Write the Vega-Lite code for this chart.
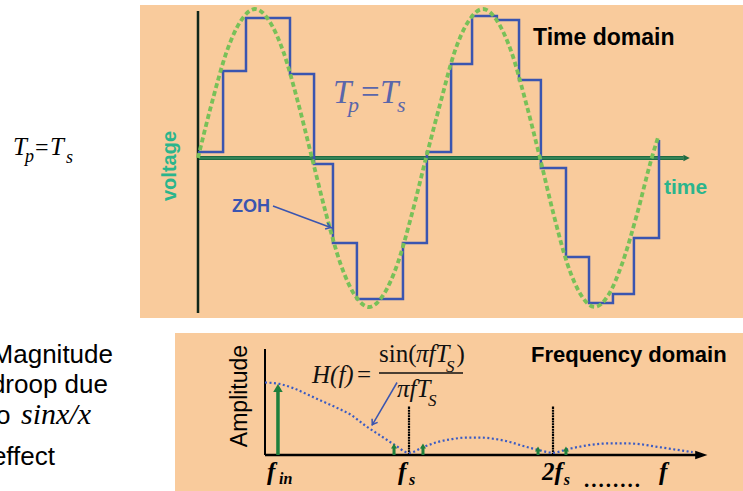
{
"$schema": "https://vega.github.io/schema/vega-lite/v6.json",
"width": 743, "height": 491, "autosize": "none", "padding": 0,
"background": "white",
"config": {"view": {"stroke": null}},
"resolve": {"scale": {"x": "independent", "y": "independent"}},
"layer": [
{
 "encoding": {
  "x": {"field": "t", "type": "quantitative", "scale": {"domain": [-25.44, 239.04], "range": [140, 743], "nice": false, "zero": false}, "axis": null},
  "y": {"field": "v", "type": "quantitative", "scale": {"domain": [-1.074, 1.027], "range": [318, 5], "nice": false, "zero": false}, "axis": null}
 },
 "layer": [
  {"data": {"values": [{"t": -25.44, "t2": 239.04, "v": -1.074, "v2": 1.027}]},
   "mark": {"type": "rect", "fill": "#f9cb9c"},
   "encoding": {"x2": {"field": "t2"}, "y2": {"field": "v2"}}},
  {"data": {"values": [{"t": 0, "t2": 213, "v": 0}]},
   "mark": {"type": "rule", "color": "#1f6b42", "strokeWidth": 4},
   "encoding": {"x2": {"field": "t2"}}},
  {"data": {"values": [{"t": 0, "t2": 213, "v": 0}]},
   "mark": {"type": "rule", "color": "#4a9d6c", "strokeWidth": 1.2},
   "encoding": {"x2": {"field": "t2"}}},
  {"data": {"values": [{"t": 214.3, "v": 0}]},
   "mark": {"type": "point", "shape": "M-1,-1L1,0L-1,1Z", "filled": true, "size": 40, "color": "#1f6b42", "opacity": 1},
   "encoding": {}},
  {"data": {"values": [{"t": 0, "v": -1.0403, "v2": 0.9866}]},
   "mark": {"type": "rule", "color": "#10261a", "strokeWidth": 2.5},
   "encoding": {"y2": {"field": "v2"}}},
  {"data": {"values": [{"t":0,"v":0.04},{"t":11.0,"v":0.584},{"t":21.05,"v":0.94},{"t":40.35,"v":0.564},{"t":50.9,"v":-0.04},{"t":59.2,"v":-0.57},{"t":69.7,"v":-0.946},{"t":89.9,"v":-0.57},{"t":100.4,"v":0.04},{"t":111.0,"v":0.631},{"t":120.2,"v":0.953},{"t":131.1,"v":0.926},{"t":140.8,"v":0.523},{"t":150.4,"v":-0.067},{"t":161.4,"v":-0.664},{"t":171.5,"v":-0.973},{"t":182.0,"v":-0.913},{"t":191.2,"v":-0.537},{"t":202.2,"v":0.121}]},
   "mark": {"type": "line", "interpolate": "step-after", "color": "#3a55b0", "strokeWidth": 2.5, "strokeJoin": "miter"},
   "encoding": {}},
  {"data": {"values": [{"t":0,"v":0},{"t":6.25,"v":0.38},{"t":12.5,"v":0.71},{"t":18.75,"v":0.92},{"t":25,"v":1.0},{"t":31.25,"v":0.92},{"t":37.5,"v":0.71},{"t":43.75,"v":0.38},{"t":50,"v":0},{"t":56.25,"v":-0.38},{"t":62.5,"v":-0.71},{"t":68.75,"v":-0.92},{"t":75,"v":-1.0},{"t":81.25,"v":-0.92},{"t":87.5,"v":-0.71},{"t":93.75,"v":-0.38},{"t":100,"v":0},{"t":106.5,"v":0.38},{"t":112.5,"v":0.71},{"t":118.7,"v":0.92},{"t":125,"v":1.0},{"t":131.2,"v":0.92},{"t":137.5,"v":0.71},{"t":143.7,"v":0.38},{"t":150,"v":0},{"t":156,"v":-0.38},{"t":162,"v":-0.71},{"t":168,"v":-0.92},{"t":174,"v":-1.0},{"t":180,"v":-0.92},{"t":186,"v":-0.71},{"t":192.5,"v":-0.38},{"t":199,"v":0},{"t":201.8,"v":0.14}]},
   "mark": {"type": "line", "interpolate": "monotone", "color": "#78c158", "strokeWidth": 3.8, "strokeDash": [5, 3]},
   "encoding": {}},
  {"data": {"values": [{"t": 32.89, "t2": 58.77, "v": -0.3221, "v2": -0.4698}]},
   "mark": {"type": "rule", "color": "#3a55b0", "strokeWidth": 1.5},
   "encoding": {"x2": {"field": "t2"}, "y2": {"field": "v2"}}},
  {"data": {"values": [{"t": 58.2, "v": -0.467}]},
   "mark": {"type": "point", "shape": "M-1,-0.7L0,0L-1,0.7", "filled": false, "size": 90, "angle": 20, "color": "#3a55b0", "strokeWidth": 1.5, "opacity": 1},
   "encoding": {}},
  {"data": {"values": [{"t": 146.93, "v": 0.8054, "label": "Time domain"}]},
   "mark": {"type": "text", "font": "Liberation Sans", "fontWeight": "bold", "fontSize": 23, "align": "left", "baseline": "middle", "color": "#000000"},
   "encoding": {"text": {"field": "label"}}},
  {"data": {"values": [{"t": 204.4, "v": -0.2013, "label": "time"}]},
   "mark": {"type": "text", "font": "Liberation Sans", "fontWeight": "bold", "fontSize": 21, "align": "left", "baseline": "middle", "color": "#2bb58c"},
   "encoding": {"text": {"field": "label"}}},
  {"data": {"values": [{"t": -12.28, "v": -0.0537, "label": "voltage"}]},
   "mark": {"type": "text", "font": "Liberation Sans", "fontWeight": "bold", "fontSize": 20, "align": "center", "baseline": "middle", "angle": 270, "color": "#2bb58c"},
   "encoding": {"text": {"field": "label"}}},
  {"data": {"values": [{"t": 14.91, "v": -0.3289, "label": "ZOH"}]},
   "mark": {"type": "text", "font": "Liberation Sans", "fontWeight": "bold", "fontSize": 18, "align": "left", "baseline": "middle", "color": "#3a55b0"},
   "encoding": {"text": {"field": "label"}}},
  {"data": {"values": [{"t": 59.2, "v": 0.369, "label": "T"}, {"t": 79.8, "v": 0.369, "label": "T"}]},
   "mark": {"type": "text", "font": "Liberation Serif", "fontStyle": "italic", "fontSize": 33, "align": "left", "baseline": "alphabetic", "color": "#5a66aa"},
   "encoding": {"text": {"field": "label"}}},
  {"data": {"values": [{"t": 71.5, "v": 0.369, "label": "="}]},
   "mark": {"type": "text", "font": "Liberation Serif", "fontSize": 33, "align": "left", "baseline": "alphabetic", "color": "#5a66aa"},
   "encoding": {"text": {"field": "label"}}},
  {"data": {"values": [{"t": 65.8, "v": 0.31, "label": "p"}, {"t": 87.3, "v": 0.309, "label": "s"}]},
   "mark": {"type": "text", "font": "Liberation Serif", "fontStyle": "italic", "fontSize": 22, "align": "left", "baseline": "alphabetic", "color": "#5a66aa"},
   "encoding": {"text": {"field": "label"}}},
  {"data": {"values": [{"t": -81.14, "v": 0.0201, "label": "T"}, {"t": -64.91, "v": 0.0201, "label": "T"}]},
   "mark": {"type": "text", "font": "Liberation Serif", "fontStyle": "italic", "fontSize": 25, "align": "left", "baseline": "alphabetic", "color": "#000000"},
   "encoding": {"text": {"field": "label"}}},
  {"data": {"values": [{"t": -71.49, "v": 0.0201, "label": "="}]},
   "mark": {"type": "text", "font": "Liberation Serif", "fontSize": 24, "align": "left", "baseline": "alphabetic", "color": "#000000"},
   "encoding": {"text": {"field": "label"}}},
  {"data": {"values": [{"t": -75.88, "v": -0.0268, "label": "p"}, {"t": -57.89, "v": -0.0336, "label": "s"}]},
   "mark": {"type": "text", "font": "Liberation Serif", "fontStyle": "italic", "fontSize": 18, "align": "left", "baseline": "alphabetic", "color": "#000000"},
   "encoding": {"text": {"field": "label"}}}
 ]
},
{
 "encoding": {
  "x": {"field": "f", "type": "quantitative", "scale": {"domain": [-0.625, 3.3194], "range": [175, 743], "nice": false, "zero": false}, "axis": null},
  "y": {"field": "a", "type": "quantitative", "scale": {"domain": [-0.4966, 1.6828], "range": [491, 333], "nice": false, "zero": false}, "axis": null}
 },
 "layer": [
  {"data": {"values": [{"f": -0.625, "f2": 3.3194, "a": -0.4966, "a2": 1.6828}]},
   "mark": {"type": "rect", "fill": "#f9cb9c"},
   "encoding": {"x2": {"field": "f2"}, "y2": {"field": "a2"}}},
  {"data": {"values": [{"f": 0, "a": 0, "a2": 1.462}]},
   "mark": {"type": "rule", "color": "#000000", "strokeWidth": 2},
   "encoding": {"y2": {"field": "a2"}}},
  {"data": {"values": [{"f": 0, "f2": 3.0, "a": 0}]},
   "mark": {"type": "rule", "color": "#000000", "strokeWidth": 2.5},
   "encoding": {"x2": {"field": "f2"}}},
  {"data": {"values": [{"f": 3.03, "a": 0}]},
   "mark": {"type": "point", "shape": "M-1,-0.7L1,0L-1,0.7Z", "filled": true, "size": 150, "color": "#000000", "opacity": 1},
   "encoding": {}},
  {"data": {"values": [{"f": 1.0, "a": 0, "a2": 0.676}, {"f": 2.0, "a": 0, "a2": 0.676}]},
   "mark": {"type": "rule", "color": "#000000", "strokeWidth": 2.2, "strokeDash": [2, 0.7]},
   "encoding": {"y2": {"field": "a2"}}},
  {"data": {"values": [{"f":0,"a":1.0},{"f":0.1,"a":0.98},{"f":0.2,"a":0.92},{"f":0.3,"a":0.83},{"f":0.4,"a":0.74},{"f":0.5,"a":0.65},{"f":0.6,"a":0.55},{"f":0.7,"a":0.40},{"f":0.8,"a":0.27},{"f":0.9,"a":0.14},{"f":1.0,"a":0.03},{"f":1.1,"a":0.11},{"f":1.2,"a":0.18},{"f":1.3,"a":0.22},{"f":1.4,"a":0.24},{"f":1.5,"a":0.24},{"f":1.6,"a":0.22},{"f":1.7,"a":0.18},{"f":1.8,"a":0.12},{"f":1.9,"a":0.07},{"f":2.0,"a":0.03},{"f":2.1,"a":0.08},{"f":2.2,"a":0.12},{"f":2.3,"a":0.15},{"f":2.4,"a":0.16},{"f":2.5,"a":0.16},{"f":2.6,"a":0.15},{"f":2.7,"a":0.12},{"f":2.8,"a":0.09},{"f":2.9,"a":0.06},{"f":2.97,"a":0.04}]},
   "mark": {"type": "line", "interpolate": "monotone", "color": "#3a5bc4", "strokeWidth": 2.2, "strokeDash": [2, 2.5]},
   "encoding": {}},
  {"data": {"values": [{"f": 0.09, "a": 0, "a2": 0.88}]},
   "mark": {"type": "rule", "color": "#1e7f3c", "strokeWidth": 3.5},
   "encoding": {"y2": {"field": "a2"}}},
  {"data": {"values": [{"f": 0.09, "a": 0.924}]},
   "mark": {"type": "point", "shape": "triangle-up", "filled": true, "size": 90, "color": "#1e7f3c", "opacity": 1},
   "encoding": {}},
  {"data": {"values": [{"f": 0.896, "a": 0, "a2": 0.11}, {"f": 1.097, "a": 0, "a2": 0.11}, {"f": 1.896, "a": 0, "a2": 0.07}, {"f": 2.09, "a": 0, "a2": 0.07}]},
   "mark": {"type": "rule", "color": "#1e7f3c", "strokeWidth": 3},
   "encoding": {"y2": {"field": "a2"}}},
  {"data": {"values": [{"f": 0.896, "a": 0.124}, {"f": 1.097, "a": 0.124}, {"f": 1.896, "a": 0.083}, {"f": 2.09, "a": 0.083}]},
   "mark": {"type": "point", "shape": "triangle-up", "filled": true, "size": 36, "color": "#1e7f3c", "opacity": 1},
   "encoding": {}},
  {"data": {"values": [{"f": 0.917, "f2": 0.743, "a": 1.0, "a2": 0.41}]},
   "mark": {"type": "rule", "color": "#3a55b0", "strokeWidth": 1.5},
   "encoding": {"x2": {"field": "f2"}, "y2": {"field": "a2"}}},
  {"data": {"values": [{"f": 0.745, "a": 0.42}]},
   "mark": {"type": "point", "shape": "M-1,-0.7L0,0L-1,0.7", "filled": false, "size": 90, "angle": 123, "color": "#3a55b0", "strokeWidth": 1.5, "opacity": 1},
   "encoding": {}},
  {"data": {"values": [{"f": 0.7917, "f2": 1.375, "a": 1.131}]},
   "mark": {"type": "rule", "color": "#111111", "strokeWidth": 1.5},
   "encoding": {"x2": {"field": "f2"}}},
  {"data": {"values": [{"f": 0.3264, "a": 0.9931, "label": "H(f)"}, {"f": 1.0486, "a": 1.2828, "label": "πfT"}, {"f": 0.9167, "a": 0.8, "label": "πfT"}]},
   "mark": {"type": "text", "font": "Liberation Serif", "fontStyle": "italic", "fontSize": 25, "align": "left", "baseline": "alphabetic", "color": "#111111"},
   "encoding": {"text": {"field": "label"}}},
  {"data": {"values": [{"f": 0.6389, "a": 0.9931, "label": "="}, {"f": 0.7917, "a": 1.2828, "label": "sin("}, {"f": 1.33, "a": 1.2828, "label": ")"}]},
   "mark": {"type": "text", "font": "Liberation Serif", "fontSize": 25, "align": "left", "baseline": "alphabetic", "color": "#111111"},
   "encoding": {"text": {"field": "label"}}},
  {"data": {"values": [{"f": 1.2569, "a": 1.1448, "label": "S"}, {"f": 1.1319, "a": 0.6759, "label": "S"}]},
   "mark": {"type": "text", "font": "Liberation Serif", "fontStyle": "italic", "fontSize": 17, "align": "left", "baseline": "alphabetic", "color": "#111111"},
   "encoding": {"text": {"field": "label"}}},
  {"data": {"values": [{"f": 0.0139, "a": -0.3448, "label": "f"}, {"f": 0.9236, "a": -0.3448, "label": "f"}, {"f": 1.9236, "a": -0.3448, "label": "2f"}, {"f": 2.7361, "a": -0.3448, "label": "f"}]},
   "mark": {"type": "text", "font": "Liberation Serif", "fontStyle": "italic", "fontWeight": "bold", "fontSize": 25, "align": "left", "baseline": "alphabetic", "color": "#000000"},
   "encoding": {"text": {"field": "label"}}},
  {"data": {"values": [{"f": 0.0972, "a": -0.4, "label": "in"}, {"f": 1.0, "a": -0.4138, "label": "s"}, {"f": 2.075, "a": -0.4138, "label": "s"}]},
   "mark": {"type": "text", "font": "Liberation Serif", "fontStyle": "italic", "fontWeight": "bold", "fontSize": 16, "align": "left", "baseline": "alphabetic", "color": "#000000"},
   "encoding": {"text": {"field": "label"}}},
  {"data": {"values": [{"f": 2.2083, "a": -0.4414, "label": "........"}]},
   "mark": {"type": "text", "font": "Liberation Serif", "fontSize": 29, "align": "left", "baseline": "alphabetic", "color": "#000000"},
   "encoding": {"text": {"field": "label"}}},
  {"data": {"values": [{"f": 1.8472, "a": 1.3793, "label": "Frequency domain"}]},
   "mark": {"type": "text", "font": "Liberation Sans", "fontWeight": "bold", "fontSize": 22, "align": "left", "baseline": "middle", "color": "#000000"},
   "encoding": {"text": {"field": "label"}}},
  {"data": {"values": [{"f": -0.1736, "a": 0.8138, "label": "Amplitude"}]},
   "mark": {"type": "text", "font": "Liberation Sans", "fontSize": 23, "align": "center", "baseline": "middle", "angle": 270, "color": "#000000"},
   "encoding": {"text": {"field": "label"}}},
  {"data": {"values": [{"f": -1.0556, "a": 1.269, "label": "Magnitude"}, {"f": -1.0903, "a": 0.851, "label": "droop due"}, {"f": -1.7674, "a": 0.423, "label": "to"}, {"f": -1.4583, "a": -0.138, "label": "effect"}]},
   "mark": {"type": "text", "font": "Liberation Sans", "fontSize": 26, "align": "right", "baseline": "alphabetic", "color": "#000000"},
   "encoding": {"text": {"field": "label"}}},
  {"data": {"values": [{"f": -1.6944, "a": 0.423, "label": "sinx/x"}]},
   "mark": {"type": "text", "font": "Liberation Serif", "fontStyle": "italic", "fontSize": 30, "align": "left", "baseline": "alphabetic", "color": "#000000"},
   "encoding": {"text": {"field": "label"}}}
 ]
}
]
}
